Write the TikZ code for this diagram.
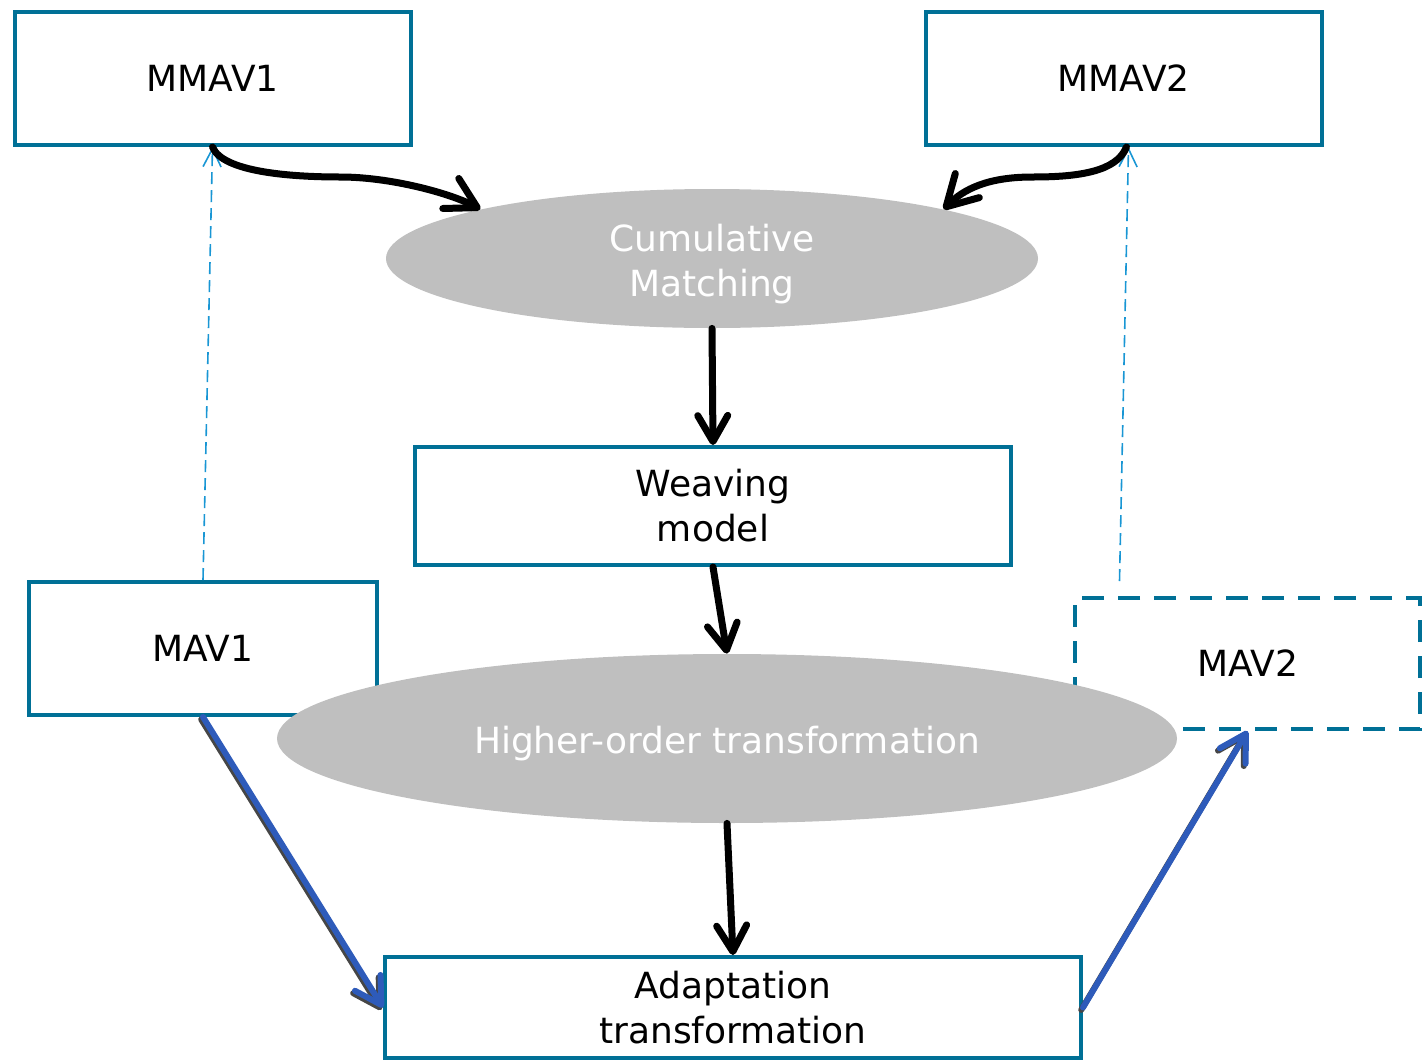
\documentclass[tikz,border=0pt]{standalone}
\usepackage{fontspec}
\setmainfont{DejaVu Sans}
\usepackage{tikz}
\usetikzlibrary{arrows.meta,shapes.geometric}

\definecolor{boxteal}{RGB}{0,112,150}
\definecolor{linkblue}{RGB}{25,150,212}
\definecolor{flowblue}{RGB}{46,91,186}
\definecolor{shade}{RGB}{70,70,70}
\definecolor{ovalgray}{RGB}{191,191,191}

\begin{document}
\begin{tikzpicture}[x=0.5pt,y=-0.5pt,
	model/.style={draw=boxteal, line width=2pt, inner sep=0pt, align=center, minimum width=198pt, minimum height=66.5pt, font=\fontsize{18}{22.5}\selectfont},
	process/.style={ellipse, fill=ovalgray, text=white, inner sep=0pt, align=center, font=\fontsize{18}{22.5}\selectfont},
	flow/.style={line width=3.5pt, line cap=round, -{Straight Barb[length=13pt, width=15pt, round]}},
	bent flow/.style={line width=3.5pt, line cap=round, -{Straight Barb[length=15pt, width=17pt, round]}},
	link/.style={draw=linkblue, line width=0.8pt, dash pattern=on 6pt off 3pt, -{Straight Barb[length=9pt, width=9pt]}}]

	\useasboundingbox (0,0) rectangle (1424,1061);

	\node[model] (mmav1) at (212.5,78.5) {MMAV1};
	\node[model] (mmav2) at (1123.5,78.5) {MMAV2};
	\node[model, minimum width=174pt] (mav1) at (203,648.5) {MAV1};
	\node[model, dash pattern=on 11pt off 7pt, minimum width=172.5pt, minimum height=65.5pt] (mav2) at (1247.5,663.5) {MAV2};

	\node[process, minimum width=326pt, minimum height=69.5pt] (match) at (712,258.5) {\rule{0pt}{19.5pt}Cumulative\\Matching};
	\node[model, minimum width=298pt, minimum height=59pt] (weave) at (713,506) {Weaving\\model};
	\node[process, minimum width=450pt, minimum height=84.5pt, text height=18.5pt] (hot) at (727,738.5) {Higher-order transformation};
	\node[model, minimum width=348pt, minimum height=50.5pt] (adapt) at (733,1007.5) {Adaptation\\transformation};

	\coordinate (mav2link) at ([xshift=-64pt,yshift=7.5pt]mav2.north);

	\draw[link] (mav1.north) -- (mmav1.south);
	\draw[link] (mav2link) -- ([xshift=2.5pt]mmav2.south);

	\draw[bent flow] (mmav1.south) .. controls +(10,25) and +(-50,0) .. ++(128,30) .. controls +(50,0) and +(-30,-16) .. (match.168);
	\draw[bent flow] ([xshift=1.5pt]mmav2.south) .. controls +(-10,25) and +(45,0) .. ++(-94,30) .. controls +(-45,0) and +(20,-20) .. (match.12);

	\draw[flow] (match.south) -- (weave.north);
	\draw[flow] (weave.south) -- (hot.north);
	\draw[flow] (hot.south) -- (adapt.north);

	\foreach \col/\dx/\dy in {shade/-0.9pt/-1.2pt, flowblue/0pt/0pt} {
		\draw[flow, draw=\col, line width=3pt, transform canvas={xshift=\dx, yshift=\dy}] (mav1.south) -- (adapt.west);
		\draw[flow, draw=\col, line width=3pt, transform canvas={xshift=\dx, yshift=\dy}] (adapt.east) -- (mav2.south);
	}

\end{tikzpicture}
\end{document}
